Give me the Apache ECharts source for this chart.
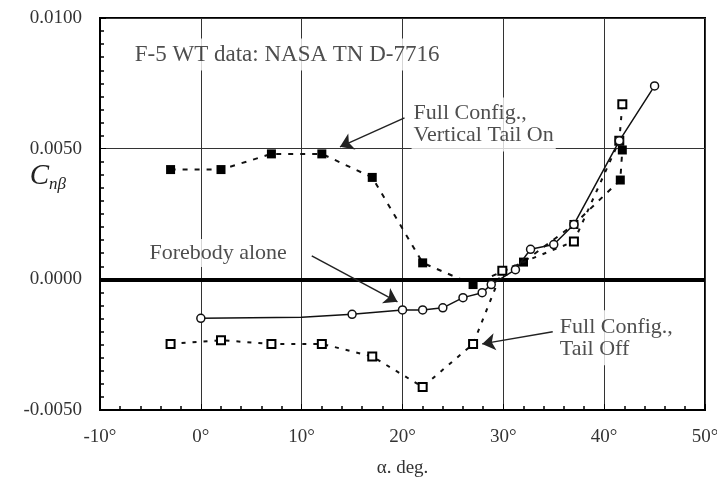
<!DOCTYPE html>
<html>
<head>
<meta charset="utf-8">
<script src="https://cdn.jsdelivr.net/npm/echarts@6/dist/echarts.min.js"></script>
<style>html,body{margin:0;padding:0;background:#fff}#c{width:717px;height:478px}</style>
</head>
<body>
<div id="c"></div>
<script>
// ---- data (alpha in degrees, Cn_beta) ----
const alphaTailOn = [-3, 2, 7, 12, 17, 22, 27, 32, 37, 41.6, 41.8];
const cnTailOn    = [0.0042, 0.0042, 0.0048, 0.0048, 0.0039, 0.00063, -0.0002, 0.00066, 0.0021, 0.0038, 0.00495];

const alphaTailOff = [-3, 2, 7, 12, 17, 22, 27, 29.9, 37, 41.5, 41.8];
const cnTailOff    = [-0.00247, -0.00233, -0.00247, -0.00247, -0.00295, -0.00412, -0.00247, 0.00033, 0.00145, 0.0053, 0.0067];

const alphaForebody = [0, 10, 15, 20, 22, 24, 26, 27.9, 28.8, 31.2, 32.7, 35, 37, 41.5, 45];
const cnForebody    = [-0.00149, -0.00145, -0.00134, -0.00117, -0.00117, -0.00109, -0.0007, -0.00051, -0.0002, 0.00037, 0.00115, 0.00133, 0.0021, 0.0053, 0.0074];
const forebodyHiddenMarkers = [10];

const xTicks = [-10, 0, 10, 20, 30, 40, 50];
const yTicks = [-0.005, 0, 0.005, 0.01];

const noteTexts = ['F-5 WT data: NASA TN D-7716', 'Full Config.,\nVertical Tail On', 'Forebody alone', 'Full Config.,\nTail Off'];
// ---- annotation anchors (data space) ----
const noteAnchors = [[-6.75, 0.0086], [20.9, 0.00592], [-5.3, 0.00101], [35.4, -0.00224]];
const notePads = [[5, 2, 5, 2], [3, 2, 7, 2], [3, 2, 3, 2], [3, 2, 8, 2]];
const arrows = [
  {from: [20.2, 0.00618], to: [13.8, 0.00507]},
  {from: [11.0, 0.0009], to: [19.5, -0.00086]},
  {from: [34.9, -0.00201], to: [27.9, -0.00247]}
];

const serif = 'Liberation Serif';
const zip = (xs, ys) => xs.map((x, i) => [x, ys[i]]);

const chart = echarts.init(document.getElementById('c'), null, {renderer: 'canvas'});
chart.setOption({
  animation: false,
  backgroundColor: '#fff',
  grid: {left: 100, right: 12, top: 18, bottom: 68, show: true, borderColor: '#000', borderWidth: 2,
         containLabel: false, outerBoundsMode: 'none'},
  xAxis: {
    type: 'value', min: xTicks[0], max: xTicks[xTicks.length - 1], interval: 10,
    axisLine: {show: true, onZero: false, lineStyle: {color: '#000', width: 2}},
    axisTick: {show: true, inside: true, length: 6, lineStyle: {color: '#000', width: 1}},
    minorTick: {show: true, splitNumber: 5, length: 4, lineStyle: {color: '#000', width: 1.5}},
    splitLine: {show: true, lineStyle: {color: '#333', width: 1}},
    axisLabel: {formatter: v => v + '°', fontFamily: serif, fontSize: 19, color: '#333', margin: 18},
    name: 'α. deg.', nameLocation: 'middle', nameGap: 49, nameMoveOverlap: false,
    nameTextStyle: {fontFamily: serif, fontSize: 19, color: '#333'}
  },
  yAxis: {
    type: 'value', min: yTicks[0], max: yTicks[yTicks.length - 1], interval: 0.005,
    axisLine: {show: true, onZero: false, lineStyle: {color: '#000', width: 2}},
    axisTick: {show: true, inside: true, length: 6, lineStyle: {color: '#000', width: 1}},
    minorTick: {show: true, splitNumber: 10, length: 4, lineStyle: {color: '#000', width: 1.5}},
    splitLine: {show: true, lineStyle: {color: '#333', width: 1}},
    axisLabel: {formatter: v => v.toFixed(4), fontFamily: serif, fontSize: 19, color: '#333', margin: 18},
    name: '{c|C}{s|nβ}', nameLocation: 'middle', nameRotate: 0, nameGap: 34, nameMoveOverlap: false,
    nameTextStyle: {
      padding: [0, 0, 76, 0],
      rich: {
        c: {fontFamily: serif, fontStyle: 'italic', fontSize: 29, color: '#222'},
        s: {fontFamily: serif, fontStyle: 'italic', fontSize: 17, color: '#222', padding: [18, 0, 0, 0]}
      }
    }
  },
  series: [
    {
      name: 'Full Config., Vertical Tail On', type: 'line', data: zip(alphaTailOn, cnTailOn),
      symbol: 'rect', symbolSize: 9, showAllSymbol: true,
      itemStyle: {color: '#000'},
      lineStyle: {color: '#111', width: 2, type: [5, 7]}, z: 3,
      markLine: {
        silent: true, symbol: 'none', label: {show: false},
        lineStyle: {color: '#000', width: 4, type: 'solid'},
        data: [{yAxis: 0}]
      }
    },
    {
      name: 'Full Config., Tail Off', type: 'line', data: zip(alphaTailOff, cnTailOff),
      symbol: 'rect', symbolSize: 8, showAllSymbol: true,
      itemStyle: {color: '#fff', borderColor: '#000', borderWidth: 2},
      lineStyle: {color: '#111', width: 2, type: [4, 7]}, z: 4
    },
    {
      name: 'Forebody alone', type: 'line',
      data: zip(alphaForebody, cnForebody).map(p => forebodyHiddenMarkers.includes(p[0]) ? {value: p, symbol: 'none'} : p),
      symbol: 'circle', symbolSize: 8, showAllSymbol: true,
      itemStyle: {color: '#fff', borderColor: '#111', borderWidth: 1.5},
      lineStyle: {color: '#111', width: 1.5}, z: 5
    },
    {
      name: 'notes', type: 'scatter', symbolSize: 0, silent: true, z: 6,
      data: noteAnchors.map((a, i) => ({value: a, label: {formatter: noteTexts[i], padding: notePads[i], fontSize: i === 0 ? 23 : 22}})),
      label: {
        show: true, position: 'right', distance: 0,
        fontFamily: serif, fontSize: 22, lineHeight: 22, color: '#222',
        backgroundColor: '#fff'
      },
      markLine: {
        silent: true, symbol: ['none', 'arrow'], symbolSize: 13, label: {show: false},
        lineStyle: {color: '#222', width: 1.5, type: 'solid'},
        data: arrows.map(a => [{coord: a.from}, {coord: a.to}])
      }
    }
  ]
});
</script>
</body>
</html>
